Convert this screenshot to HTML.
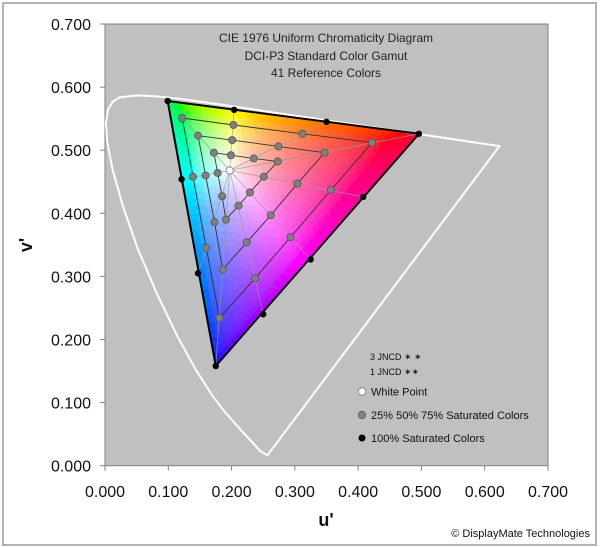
<!DOCTYPE html>
<html><head><meta charset="utf-8"><style>
html,body{margin:0;padding:0;background:#fff;}
svg{display:block;font-family:"Liberation Sans",Arial,sans-serif;}
</style></head><body>
<svg id="chart" width="600" height="547" viewBox="0 0 600 547" xmlns="http://www.w3.org/2000/svg">
<rect x="3" y="3" width="593" height="542" fill="#fff" stroke="#999" stroke-width="1.5"/>
<rect x="105" y="24" width="443" height="441.7" fill="#c0c0c0" stroke="#808080" stroke-width="1"/>
<g id="fill"></g>
<g id="marks"></g>
<g id="axes"></g>
<g font-size="12" fill="#222" text-anchor="middle">
<text x="326" y="42">CIE 1976 Uniform Chromaticity Diagram</text>
<text x="326" y="60">DCI-P3 Standard Color Gamut</text>
<text x="326" y="77">41 Reference Colors</text>
</g>
<g font-size="11" fill="#111">
<text x="370" y="360" font-size="9">3 JNCD ✶ ✶</text>
<text x="370" y="375" font-size="9">1 JNCD ✶✶</text>
<circle cx="362" cy="391.5" r="3.8" fill="#fff" stroke="#777" stroke-width="0.8"/>
<text x="371" y="395.5">White Point</text>
<circle cx="362" cy="415" r="3.8" fill="#808080" stroke="#666" stroke-width="0.8"/>
<text x="371" y="419">25% 50% 75% Saturated Colors</text>
<circle cx="362" cy="438" r="3.5" fill="#000"/>
<text x="371" y="442">100% Saturated Colors</text>
</g>
<text x="326" y="526" font-size="18" font-weight="bold" text-anchor="middle" fill="#111">u'</text>
<text x="0" y="0" font-size="18" font-weight="bold" text-anchor="middle" fill="#111" transform="translate(32,245) rotate(-90)">v'</text>
<text x="590" y="537" font-size="11" text-anchor="end" fill="#111">© DisplayMate Technologies</text>
</svg>
<script>
const xTicks = [0, 0.1, 0.2, 0.3, 0.4, 0.5, 0.6, 0.7];
const yTicks = [0, 0.1, 0.2, 0.3, 0.4, 0.5, 0.6, 0.7];
const locusU = [0.2568,0.2461,0.2347,0.2161,0.1877,0.1690,0.1441,0.1147,0.0828,0.0521,0.0282,0.0119,0.0035,0.0014,0.0046,0.0123,0.0231,0.0501,0.0792,0.1127,0.1531,0.2026,0.2623,0.3315,0.4035,0.5203,0.6234];
const locusV = [0.0166,0.0226,0.0350,0.0549,0.0871,0.1119,0.1510,0.2044,0.2708,0.3427,0.4117,0.4699,0.5131,0.5431,0.5638,0.5770,0.5837,0.5868,0.5856,0.5821,0.5766,0.5694,0.5604,0.5501,0.5393,0.5219,0.5065];
const primU = [0.496, 0.099, 0.175];
const primV = [0.526, 0.578, 0.158];
const whiteU = 0.197, whiteV = 0.468;
const hueNames = ['green','yellow','orange','red','magenta-1','magenta-2','magenta-3','blue','cyan-1','cyan-2'];
const sat100U = [0.099,0.204,0.350,0.496,0.408,0.325,0.250,0.175,0.147,0.121];
const sat100V = [0.578,0.564,0.545,0.526,0.426,0.327,0.240,0.158,0.305,0.454];
const sat75U = [0.122,0.203,0.312,0.422,0.357,0.293,0.237,0.181,0.160,0.139];
const sat75V = [0.551,0.540,0.526,0.512,0.437,0.362,0.297,0.234,0.345,0.458];
const sat50U = [0.147,0.201,0.274,0.347,0.304,0.262,0.224,0.186,0.173,0.159];
const sat50V = [0.523,0.516,0.506,0.496,0.447,0.397,0.354,0.311,0.386,0.460];
const sat25U = [0.172,0.199,0.235,0.273,0.251,0.229,0.211,0.191,0.185,0.178];
const sat25V = [0.496,0.492,0.487,0.482,0.458,0.433,0.412,0.390,0.427,0.464];

const NS = 'http://www.w3.org/2000/svg';
const X0 = 105, X1 = 548, Y0 = 465.7, Y1 = 24;
const sx = u => X0 + u / 0.7 * (X1 - X0);
const sy = v => Y0 - v / 0.7 * (Y0 - Y1);
function mk(tag, attrs, parent) {
  const e = document.createElementNS(NS, tag);
  for (const k in attrs) e.setAttribute(k, attrs[k]);
  parent.appendChild(e);
  return e;
}
function color(u, v) {
  const d = 6*u - 16*v + 12, x = 9*u/d, y = 4*v/d;
  const X = x/y, Y = 1, Z = (1-x-y)/y;
  let r = 3.2406*X - 1.5372*Y - 0.4986*Z;
  let g = -0.9689*X + 1.8758*Y + 0.0415*Z;
  let b = 0.0557*X - 0.2040*Y + 1.0570*Z;
  const mn = Math.min(r,g,b);
  if (mn < 0) { r -= mn; g -= mn; b -= mn; }
  const mx = Math.max(r,g,b);
  const gm = c => { c = c/mx; c = c <= 0.0031308 ? 12.92*c : 1.055*Math.pow(c,1/2.4)-0.055; return Math.round(Math.max(0,Math.min(1,c))*255); };
  return 'rgb(' + gm(r) + ',' + gm(g) + ',' + gm(b) + ')';
}
const fill = document.getElementById('fill');
const marks = document.getElementById('marks');
const axes = document.getElementById('axes');

const lp = locusU.map((u,i) => sx(u).toFixed(1) + ',' + sy(locusV[i]).toFixed(1)).join(' ');
const locus = mk('polygon', {points: lp, fill: 'none', stroke: '#fff', 'stroke-width': 2, 'stroke-linejoin': 'round'}, marks);



const N = 36;
const P = (i, j) => {
  const a = i/N, b = j/N, c = 1 - a - b;
  return [a*primU[0] + b*primU[1] + c*primU[2], a*primV[0] + b*primV[1] + c*primV[2]];
};
for (let i = 0; i < N; i++) {
  for (let j = 0; j < N - i; j++) {
    const tris = [[P(i,j), P(i+1,j), P(i,j+1)]];
    if (i + j < N - 1) tris.push([P(i+1,j), P(i+1,j+1), P(i,j+1)]);
    tris.forEach(t => {
      const cu = (t[0][0]+t[1][0]+t[2][0])/3, cv = (t[0][1]+t[1][1]+t[2][1])/3;
      const c = color(cu, cv);
      const pg = mk('polygon', {points: t.map(p => sx(p[0]).toFixed(2)+','+sy(p[1]).toFixed(2)).join(' '), fill: c, stroke: c, 'stroke-width': 0.6}, fill);
      
      
    });
  }
}

sat100U.forEach((u, i) => {
  const l = mk('line', {x1: sx(whiteU), y1: sy(whiteV), x2: sx(u), y2: sy(sat100V[i]), stroke: '#999', 'stroke-width': 0.8, 'stroke-opacity': 0.8}, marks);
  
  
});
[[sat25U, sat25V, '25'], [sat50U, sat50V, '50'], [sat75U, sat75V, '75']].forEach(([us, vs, nm]) => {
  const pts = us.map((u, i) => sx(u).toFixed(1) + ',' + sy(vs[i]).toFixed(1)).join(' ');
  const r = mk('polygon', {points: pts, fill: 'none', stroke: '#333', 'stroke-width': 0.9}, marks);
  
  
});
const tri = mk('polygon', {points: primU.map((u,i) => sx(u)+','+sy(primV[i])).join(' '), fill: 'none', stroke: '#000', 'stroke-width': 2, 'stroke-linejoin': 'round'}, marks);


[[sat25U, sat25V, '25'], [sat50U, sat50V, '50'], [sat75U, sat75V, '75']].forEach(([us, vs, nm]) => {
  us.forEach((u, i) => {
    const c = mk('circle', {cx: sx(u), cy: sy(vs[i]), r: 3.6, fill: '#808080', stroke: '#555', 'stroke-width': 0.8}, marks);
    
    
  });
});
sat100U.forEach((u, i) => {
  const c = mk('circle', {cx: sx(u), cy: sy(sat100V[i]), r: 3.2, fill: '#000'}, marks);
  
  
});
const w = mk('circle', {cx: sx(whiteU), cy: sy(whiteV), r: 3.6, fill: '#fff', stroke: '#777', 'stroke-width': 0.8}, marks);



xTicks.forEach(t => {
  const l = mk('line', {x1: sx(t), y1: Y0, x2: sx(t), y2: Y0 + 5, stroke: '#808080', 'stroke-width': 1}, axes);
  
  
  const tx = mk('text', {x: sx(t), y: 497, 'font-size': 16, 'text-anchor': 'middle', fill: '#111'}, axes);
  tx.textContent = t.toFixed(3);
  
  
});
yTicks.forEach(t => {
  const l = mk('line', {x1: X0 - 5, y1: sy(t), x2: X0, y2: sy(t), stroke: '#808080', 'stroke-width': 1}, axes);
  
  
  const tx = mk('text', {x: 91, y: sy(t) + 6, 'font-size': 16, 'text-anchor': 'end', fill: '#111'}, axes);
  tx.textContent = t.toFixed(3);
  
  
});
</script>
</body></html>
